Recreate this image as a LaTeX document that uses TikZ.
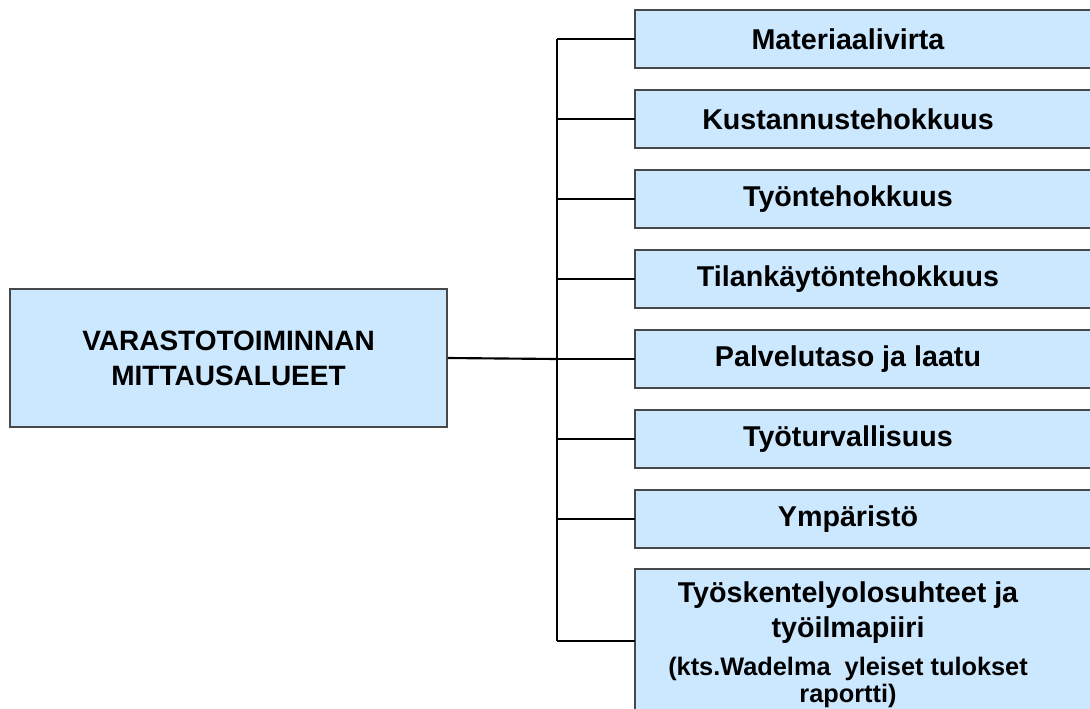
\documentclass[tikz,border=0pt]{standalone}
\usepackage{fontspec}
\setmainfont{Liberation Sans}
\usetikzlibrary{backgrounds}
\definecolor{boxfill}{RGB}{204,232,255}
\definecolor{boxline}{RGB}{72,72,72}
\begin{document}
\begin{tikzpicture}[x=0.75pt,y=-0.75pt,
  boxshape/.style={draw=boxline, fill=boxfill, line width=1.2pt},
  mainbox/.style={boxshape, minimum width=327.75pt, minimum height=103.5pt, align=center,
    font=\bfseries\fontsize{21}{26.25}\selectfont, inner sep=0pt},
  subbox/.style={minimum width=319.5pt, minimum height=42.75pt, align=center,
    font=\bfseries\fontsize{21.5}{26.25}\selectfont, inner sep=0pt},
  mainline/.style={line width=1.6pt},
  trunkline/.style={line width=1.3pt},
  branchline/.style={line width=1pt}]
\useasboundingbox (0,0) rectangle (1090,708);
\clip (0,0) rectangle (1090,708);

\node[mainbox] (root) at (228.5,358) {VARASTOTOIMINNAN\\MITTAUSALUEET};

\node[subbox] (m1) at (848,39) {Materiaalivirta};
\node[subbox] (m2) at (848,119) {Kustannustehokkuus};
\node[subbox] (m3) at (848,199) {Työntehokkuus};
\node[subbox] (m4) at (848,279) {Tilankäytöntehokkuus};
\node[subbox] (m5) at (848,359) {Palvelutaso ja laatu};
\node[subbox] (m6) at (848,439) {Työturvallisuus};
\node[subbox] (m7) at (848,519) {Ympäristö};
\node[subbox, minimum height=108pt] (m8) at (848,641)
  {\rule{0pt}{21.7pt}Työskentelyolosuhteet ja\\työilmapiiri\\[1.75pt]
   {\fontsize{19}{22}\selectfont (kts.Wadelma\ \ yleiset tulokset}\\[-5.5pt]
   {\fontsize{19}{22}\selectfont raportti)}};

\begin{scope}[on background layer]
  \foreach \n in {m1,m2,m3,m4,m5,m6,m7,m8}
    \draw[boxshape] (\n.north west) rectangle ([xshift=40pt]\n.south east);
\end{scope}

\coordinate (j) at (557,359);
\draw[mainline] (root.east) -- (j);
\draw[trunkline] (j |- m1.west) -- (j |- m8.west);
\foreach \n in {m1,m2,m3,m4,m5,m6,m7,m8}
  \draw[branchline] (j |- \n.west) -- (\n.west);
\end{tikzpicture}
\end{document}
